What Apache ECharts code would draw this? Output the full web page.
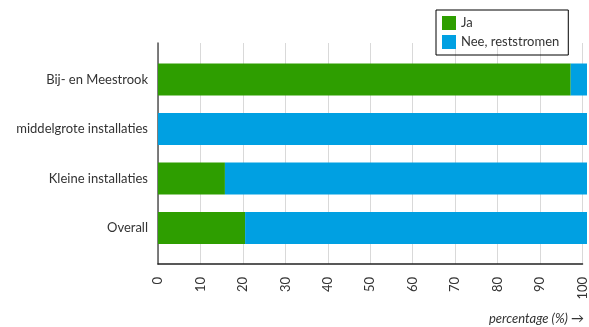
<!DOCTYPE html>
<html><head><meta charset="utf-8">
<script src="https://cdn.jsdelivr.net/npm/echarts@6/dist/echarts.min.js"></script>
<style>html,body{margin:0;padding:0;background:#fff}#c{width:589px;height:327px}</style>
</head><body><div id="c"></div>
<script>
const categories = ["Bij- en Meestrook", "middelgrote installaties", "Kleine installaties", "Overall"];
const jaValues = [96.2, 0, 15.6, 20.3];
const neeValues = [3.8, 100, 84.4, 79.7];
const xTicks = [0, 10, 20, 30, 40, 50, 60, 70, 80, 90, 100];
const seriesNames = ["Ja", "Nee, reststromen"];
const axisTitle = "percentage (%) \u2192";

const FONT = "Lato";
const chart = echarts.init(document.getElementById('c'), null, {renderer: 'canvas'});
chart.setOption({
  animation: false,
  textStyle: {fontFamily: FONT},
  title: {
    text: axisTitle, right: 0, top: 307,
    textStyle: {fontFamily: FONT, fontSize: 13, fontStyle: 'italic', fontWeight: 'normal', color: '#333'}
  },
  legend: {
    data: seriesNames, orient: 'vertical', left: 436, top: 10,
    borderColor: '#000', borderWidth: 1, padding: [6, 9, 6, 6],
    itemWidth: 14, itemHeight: 14, itemGap: 5, icon: 'rect',
    textStyle: {fontFamily: FONT, fontSize: 13, color: '#333'}
  },
  grid: [
    {left: 158, right: 2, top: 43, bottom: 63},
    {left: 158, right: 2, top: 54.75, bottom: 74.25}
  ],
  xAxis: [
    {gridIndex: 0, type: 'value', min: xTicks[0], max: xTicks[xTicks.length - 1], interval: 10,
     axisLine: {show: true, lineStyle: {color: '#222', width: 1.5}},
     axisTick: {show: false},
     splitLine: {show: true, lineStyle: {color: '#d9d9d9'}},
     axisLabel: {rotate: 90, margin: 13, fontSize: 13, color: '#333', fontFamily: FONT}},
    {gridIndex: 1, type: 'value', min: 0, max: 100, show: false}
  ],
  yAxis: [
    {gridIndex: 0, type: 'value', min: 0, max: 1,
     axisLine: {show: true, lineStyle: {color: '#555', width: 1.5}},
     axisTick: {show: false}, axisLabel: {show: false}, splitLine: {show: false}},
    {gridIndex: 1, type: 'category', data: categories, inverse: true,
     axisLine: {show: false}, axisTick: {show: false},
     axisLabel: {margin: 10, fontSize: 13, color: '#333', fontFamily: FONT}}
  ],
  series: [
    {name: seriesNames[0], type: 'bar', stack: 's', xAxisIndex: 1, yAxisIndex: 1,
     data: jaValues, barWidth: 32, itemStyle: {color: '#2e9e00'}},
    {name: seriesNames[1], type: 'bar', stack: 's', xAxisIndex: 1, yAxisIndex: 1,
     data: neeValues, barWidth: 32, itemStyle: {color: '#00a0e2'}}
  ]
});
</script></body></html>
